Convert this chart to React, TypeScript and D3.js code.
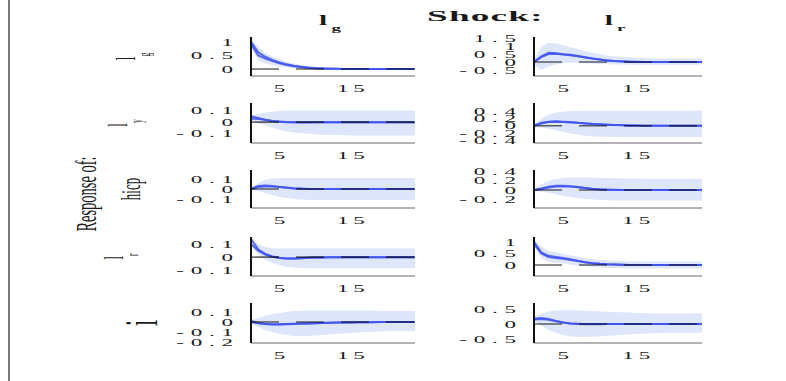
import React from 'react';
import * as d3 from 'd3';

// Horizon (periods after the shock)
const periods = [1, 2, 3, 4, 5, 6, 7, 8, 9, 10, 11, 12, 13, 14, 15, 16, 17, 18, 19, 20, 21, 22, 23, 24];
const xTicks = [5, 15];

// Shock columns and response rows
const shockNames = [{ base: 'l', sub: 'g' }, { base: 'l', sub: 'r' }];
const responseNames = [
  { base: 'l', sub: 'g' },
  { base: 'l', sub: 'y' },
  { base: 'hicp', sub: '' },
  { base: 'l', sub: 'r' },
  { base: 'i', sub: '' },
];

// ---- shock l_g ----
const g_lg_point = [1.0, 0.62, 0.45, 0.33, 0.24, 0.17, 0.12, 0.08, 0.05, 0.03, 0.02, 0.01, 0.01, 0, 0, 0, 0, 0, 0, 0, 0, 0, 0, 0];
const g_lg_median = [0.92, 0.5, 0.38, 0.29, 0.21, 0.15, 0.1, 0.07, 0.04, 0.03, 0.02, 0.01, 0.01, 0, 0, 0, 0, 0, 0, 0, 0, 0, 0, 0];
const g_lg_hi = [1.12, 0.82, 0.6, 0.46, 0.36, 0.27, 0.2, 0.15, 0.11, 0.08, 0.06, 0.05, 0.04, 0.03, 0.03, 0.02, 0.02, 0.02, 0.02, 0.02, 0.02, 0.02, 0.02, 0.02];
const g_lg_lo = [0.85, 0.3, 0.2, 0.14, 0.09, 0.05, 0.02, 0, -0.01, -0.02, -0.02, -0.02, -0.02, -0.02, -0.02, -0.02, -0.02, -0.02, -0.02, -0.02, -0.02, -0.02, -0.02, -0.02];

const g_ly_point = [0.05, 0.035, 0.02, 0.01, 0.004, 0, -0.002, -0.003, -0.003, -0.002, -0.002, -0.001, 0, 0, 0, 0, 0, 0, 0, 0, 0, 0, 0, 0];
const g_ly_median = [0.03, 0.028, 0.018, 0.01, 0.005, 0.001, -0.001, -0.002, -0.002, -0.002, -0.001, -0.001, 0, 0, 0, 0, 0, 0, 0, 0, 0, 0, 0, 0];
const g_ly_hi = [0.06, 0.07, 0.08, 0.09, 0.095, 0.1, 0.1, 0.1, 0.1, 0.1, 0.1, 0.1, 0.1, 0.1, 0.1, 0.1, 0.1, 0.1, 0.1, 0.1, 0.1, 0.1, 0.1, 0.1];
const g_ly_lo = [0.01, -0.01, -0.03, -0.05, -0.065, -0.08, -0.09, -0.095, -0.1, -0.105, -0.11, -0.11, -0.112, -0.113, -0.115, -0.115, -0.115, -0.115, -0.115, -0.115, -0.115, -0.115, -0.115, -0.115];

const g_hicp_point = [0, 0.03, 0.035, 0.03, 0.02, 0.012, 0.006, 0.002, 0, -0.001, 0, 0, 0, 0, 0, 0, 0, 0, 0, 0, 0, 0, 0, 0];
const g_hicp_median = [0, 0.02, 0.025, 0.025, 0.02, 0.014, 0.008, 0.004, 0.001, 0, 0, 0, 0, 0, 0, 0, 0, 0, 0, 0, 0, 0, 0, 0];
const g_hicp_hi = [0.01, 0.06, 0.09, 0.105, 0.11, 0.11, 0.11, 0.11, 0.11, 0.11, 0.11, 0.11, 0.11, 0.11, 0.11, 0.11, 0.11, 0.11, 0.11, 0.11, 0.11, 0.11, 0.11, 0.11];
const g_hicp_lo = [-0.01, -0.02, -0.04, -0.06, -0.08, -0.09, -0.1, -0.105, -0.11, -0.11, -0.11, -0.11, -0.11, -0.11, -0.11, -0.11, -0.11, -0.11, -0.11, -0.11, -0.11, -0.11, -0.11, -0.11];

const g_lr_point = [0.14, 0.06, 0.025, 0.005, -0.005, -0.01, -0.01, -0.008, -0.005, -0.003, -0.002, -0.001, 0, 0, 0, 0, 0, 0, 0, 0, 0, 0, 0, 0];
const g_lr_median = [0.1, 0.05, 0.02, 0.003, -0.006, -0.01, -0.01, -0.008, -0.005, -0.003, -0.002, -0.001, 0, 0, 0, 0, 0, 0, 0, 0, 0, 0, 0, 0];
const g_lr_hi = [0.15, 0.1, 0.078, 0.068, 0.066, 0.066, 0.066, 0.066, 0.066, 0.066, 0.066, 0.066, 0.066, 0.066, 0.066, 0.066, 0.066, 0.066, 0.066, 0.066, 0.066, 0.066, 0.066, 0.066];
const g_lr_lo = [0.1, 0.02, -0.02, -0.045, -0.062, -0.074, -0.08, -0.083, -0.085, -0.085, -0.085, -0.085, -0.085, -0.085, -0.085, -0.085, -0.085, -0.085, -0.085, -0.085, -0.085, -0.085, -0.085, -0.085];

const g_i_point = [0.01, -0.01, -0.02, -0.025, -0.025, -0.022, -0.02, -0.017, -0.015, -0.012, -0.01, -0.008, -0.006, -0.005, -0.004, -0.003, -0.002, -0.002, -0.001, -0.001, 0, 0, 0, 0];
const g_i_median = [0, -0.012, -0.02, -0.022, -0.022, -0.02, -0.018, -0.016, -0.014, -0.012, -0.01, -0.008, -0.006, -0.005, -0.004, -0.003, -0.002, -0.002, -0.001, -0.001, 0, 0, 0, 0];
const g_i_hi = [0.02, 0.04, 0.06, 0.08, 0.09, 0.1, 0.11, 0.11, 0.115, 0.115, 0.115, 0.115, 0.115, 0.115, 0.115, 0.115, 0.115, 0.115, 0.11, 0.11, 0.11, 0.11, 0.11, 0.11];
const g_i_lo = [-0.02, -0.05, -0.08, -0.1, -0.12, -0.13, -0.14, -0.14, -0.14, -0.135, -0.13, -0.125, -0.12, -0.115, -0.11, -0.105, -0.1, -0.1, -0.095, -0.09, -0.09, -0.09, -0.09, -0.09];

// ---- shock l_r ----
const r_lg_point = [0, 0.35, 0.58, 0.55, 0.48, 0.45, 0.38, 0.3, 0.22, 0.15, 0.1, 0.06, 0.03, 0.01, 0, 0, 0, 0, 0, 0, 0, 0, 0, 0];
const r_lg_median = [0, 0.3, 0.5, 0.52, 0.47, 0.42, 0.36, 0.28, 0.21, 0.15, 0.1, 0.06, 0.04, 0.02, 0.01, 0, 0, 0, 0, 0, 0, 0, 0, 0];
const r_lg_hi = [0.15, 0.95, 1.2, 1.15, 1.05, 0.92, 0.8, 0.68, 0.57, 0.48, 0.41, 0.36, 0.32, 0.29, 0.27, 0.25, 0.24, 0.23, 0.22, 0.22, 0.21, 0.21, 0.21, 0.21];
const r_lg_lo = [-0.15, -0.5, -0.3, -0.15, -0.08, -0.05, -0.06, -0.08, -0.1, -0.12, -0.14, -0.15, -0.16, -0.17, -0.17, -0.18, -0.18, -0.18, -0.18, -0.18, -0.18, -0.18, -0.18, -0.18];

const r_ly_point = [0, 0.08, 0.11, 0.12, 0.11, 0.1, 0.08, 0.07, 0.05, 0.04, 0.03, 0.02, 0.015, 0.01, 0.005, 0, 0, 0, 0, 0, 0, 0, 0, 0];
const r_ly_median = [0, 0.06, 0.1, 0.11, 0.1, 0.09, 0.08, 0.06, 0.05, 0.04, 0.03, 0.02, 0.02, 0.01, 0.01, 0, 0, 0, 0, 0, 0, 0, 0, 0];
const r_ly_hi = [0.05, 0.2, 0.3, 0.36, 0.39, 0.4, 0.41, 0.41, 0.41, 0.41, 0.41, 0.41, 0.41, 0.41, 0.41, 0.41, 0.41, 0.41, 0.41, 0.41, 0.41, 0.41, 0.41, 0.41];
const r_ly_lo = [-0.05, -0.05, -0.08, -0.12, -0.17, -0.21, -0.24, -0.27, -0.29, -0.3, -0.3, -0.31, -0.31, -0.31, -0.31, -0.31, -0.31, -0.31, -0.31, -0.31, -0.31, -0.31, -0.31, -0.31];

const r_hicp_point = [0, 0.03, 0.07, 0.09, 0.09, 0.08, 0.06, 0.04, 0.02, 0.01, 0, 0, 0, 0, 0, 0, 0, 0, 0, 0, 0, 0, 0, 0];
const r_hicp_median = [0, 0.02, 0.05, 0.07, 0.075, 0.07, 0.055, 0.04, 0.025, 0.015, 0.01, 0.005, 0, 0, 0, 0, 0, 0, 0, 0, 0, 0, 0, 0];
const r_hicp_hi = [0.02, 0.12, 0.19, 0.23, 0.25, 0.26, 0.26, 0.26, 0.26, 0.25, 0.25, 0.25, 0.24, 0.24, 0.24, 0.24, 0.23, 0.23, 0.23, 0.23, 0.23, 0.23, 0.23, 0.23];
const r_hicp_lo = [-0.02, -0.04, -0.06, -0.09, -0.12, -0.15, -0.17, -0.19, -0.2, -0.21, -0.21, -0.22, -0.22, -0.22, -0.22, -0.22, -0.22, -0.22, -0.22, -0.22, -0.22, -0.22, -0.22, -0.22];

const r_lr_point = [1.0, 0.55, 0.4, 0.35, 0.3, 0.25, 0.18, 0.12, 0.08, 0.05, 0.03, 0.02, 0.01, 0, 0, 0, 0, 0, 0, 0, 0, 0, 0, 0];
const r_lr_median = [0.92, 0.5, 0.35, 0.3, 0.27, 0.22, 0.17, 0.12, 0.08, 0.05, 0.03, 0.02, 0.01, 0, 0, 0, 0, 0, 0, 0, 0, 0, 0, 0];
const r_lr_hi = [1.1, 0.8, 0.62, 0.55, 0.48, 0.42, 0.36, 0.3, 0.26, 0.22, 0.2, 0.18, 0.17, 0.16, 0.16, 0.15, 0.15, 0.15, 0.15, 0.15, 0.15, 0.15, 0.15, 0.15];
const r_lr_lo = [0.85, 0.3, 0.15, 0.1, 0.06, 0.02, -0.02, -0.05, -0.08, -0.1, -0.12, -0.13, -0.14, -0.15, -0.15, -0.15, -0.15, -0.15, -0.15, -0.15, -0.15, -0.15, -0.15, -0.15];

const r_i_point = [0.18, 0.2, 0.17, 0.1, 0.05, 0.02, 0, -0.01, -0.01, -0.005, 0, 0, 0, 0, 0, 0, 0, 0, 0, 0, 0, 0, 0, 0];
const r_i_median = [0.15, 0.17, 0.14, 0.09, 0.05, 0.02, 0.01, 0, 0, 0, 0, 0, 0, 0, 0, 0, 0, 0, 0, 0, 0, 0, 0, 0];
const r_i_hi = [0.25, 0.35, 0.42, 0.45, 0.46, 0.46, 0.45, 0.44, 0.43, 0.42, 0.41, 0.4, 0.39, 0.38, 0.37, 0.36, 0.36, 0.35, 0.35, 0.35, 0.35, 0.35, 0.35, 0.35];
const r_i_lo = [0.1, -0.05, -0.2, -0.3, -0.37, -0.41, -0.43, -0.43, -0.42, -0.41, -0.4, -0.38, -0.36, -0.35, -0.33, -0.32, -0.31, -0.3, -0.3, -0.29, -0.29, -0.29, -0.29, -0.28];

// Axis limits and tick values per panel
const ylim_g = [[-0.26, 1.18], [-0.18, 0.165], [-0.19, 0.19], [-0.145, 0.155], [-0.21, 0.19]];
const ylim_r = [[-0.875, 1.56], [-0.47, 0.62], [-0.38, 0.42], [-0.48, 1.22], [-0.63, 0.7]];
const yticks_g = [[0, 0.5, 1], [-0.1, 0, 0.1], [-0.1, 0, 0.1], [-0.1, 0, 0.1], [-0.2, -0.1, 0, 0.1]];
const yticks_r = [[-0.5, 0, 0.5, 1, 1.5], [-0.4, -0.2, 0, 0.2, 0.4], [-0.2, 0, 0.2, 0.4], [0, 0.5, 1], [-0.5, 0, 0.5]];

const seriesG = [
  [g_lg_point, g_lg_median, g_lg_lo, g_lg_hi],
  [g_ly_point, g_ly_median, g_ly_lo, g_ly_hi],
  [g_hicp_point, g_hicp_median, g_hicp_lo, g_hicp_hi],
  [g_lr_point, g_lr_median, g_lr_lo, g_lr_hi],
  [g_i_point, g_i_median, g_i_lo, g_i_hi],
];
const seriesR = [
  [r_lg_point, r_lg_median, r_lg_lo, r_lg_hi],
  [r_ly_point, r_ly_median, r_ly_lo, r_ly_hi],
  [r_hicp_point, r_hicp_median, r_hicp_lo, r_hicp_hi],
  [r_lr_point, r_lr_median, r_lr_lo, r_lr_hi],
  [r_i_point, r_i_median, r_i_lo, r_i_hi],
];

// Layout
const W = 786;
const H = 381;
const COLS: [number, number][] = [[251, 415], [534, 702]];
const ROWS: [number, number][] = [[37, 76], [103, 143], [170, 208], [237, 276], [303, 343]];
const ROW_LABEL_X = [135, 127, 140, 123, 157];
const ROW_LABEL_SIZE = [13, 13, 13, 13, 22];
const SX = 2.1; // horizontal glyph stretch
const FONT = "'Liberation Serif', 'Times New Roman', serif";
const BLUE = '#3f52ee';
const BAND = '#c6d6f8';

function fmt(v: number) {
  if (v === 0) return '0';
  return String(v);
}

function HText(props: { x: number; y: number; anchor?: string; size: number; bold?: boolean; spacing?: number; sx?: number; children: React.ReactNode }) {
  const { x, y, anchor = 'start', size, bold, spacing = 0, sx = SX, children } = props;
  const shift = anchor === 'end' ? spacing : anchor === 'middle' ? spacing / 2 : 0;
  return (
    <text
      transform={`translate(${x},${y}) scale(${sx},1)`}
      x={shift}
      textAnchor={anchor}
      fontFamily={FONT}
      fontSize={size}
      fontWeight={bold ? 'bold' : 'normal'}
      letterSpacing={spacing}
      fill="#1a1a1a"
    >
      {children}
    </text>
  );
}

function VText(props: { x: number; y: number; size: number; children: React.ReactNode }) {
  const { x, y, size, children } = props;
  return (
    <text
      transform={`translate(${x},${y}) scale(${SX},1) rotate(-90)`}
      textAnchor="middle"
      fontFamily={FONT}
      fontSize={size}
      fill="#1a1a1a"
    >
      {children}
    </text>
  );
}

function Panel(props: { col: number; row: number; series: number[][]; ylim: number[]; yticks: number[]; clipId: string }) {
  const { col, row, series, ylim, yticks, clipId } = props;
  const [x0, x1] = COLS[col];
  const [top, bottom] = ROWS[row];
  const x = d3.scaleLinear().domain([periods[0], periods[periods.length - 1]]).range([x0, x1]);
  const y = d3.scaleLinear().domain(ylim).range([bottom, top]);
  const [point, median, lo, hi] = series;
  const idx = periods.map((_, i) => i);
  const area = d3
    .area<number>()
    .x((i) => x(periods[i]))
    .y0((i) => y(lo[i]))
    .y1((i) => y(hi[i]));
  const line = (vals: number[]) =>
    d3
      .line<number>()
      .x((i) => x(periods[i]))
      .y((i) => y(vals[i]))(idx) || '';

  return (
    <g>
      <clipPath id={clipId}>
        <rect x={x0} y={top - 2} width={x1 - x0 + 1} height={bottom - top + 2} />
      </clipPath>
      <g clipPath={`url(#${clipId})`}>
        <path d={area(idx) || ''} fill={BAND} fillOpacity={0.6} />
        <path d={line(median)} fill="none" stroke={BLUE} strokeOpacity={0.85} strokeWidth={2} />
        <path d={line(point)} fill="none" stroke={BLUE} strokeOpacity={0.85} strokeWidth={2} />
      </g>
      <line x1={x0} x2={x1} y1={y(0)} y2={y(0)} stroke="#000" strokeOpacity={0.6} strokeWidth={1.6} strokeDasharray="28 17" />
      <line x1={x0} x2={x1} y1={bottom} y2={bottom} stroke="#9a9a9a" strokeWidth={1.5} />
      <line x1={x0} x2={x0} y1={top} y2={bottom} stroke="#111" strokeWidth={2} />
      {yticks.map((t) => (
        <HText key={`y${t}`} x={x0 - 18} y={y(t) + 3.7} anchor="end" size={11} spacing={3.2}>
          {fmt(t)}
        </HText>
      ))}
      {xTicks.map((t) => (
        <HText key={`x${t}`} x={x(t)} y={bottom + 16} anchor="middle" size={11} spacing={2.3}>
          {t}
        </HText>
      ))}
    </g>
  );
}

export default function App() {
  return (
    <svg width={W} height={H} style={{ position: 'absolute', left: 0, top: 0, background: '#fff' }}>
      <rect x={0} y={0} width={W} height={H} fill="#fff" />
      <line x1={9} x2={9} y1={0} y2={H} stroke="#7a7a7a" strokeWidth={2} />

      {/* Header */}
      <HText x={427} y={21} size={15.5} bold spacing={0.5} sx={2.4}>Shock:</HText>
      {shockNames.map((s, c) => (
        <text
          key={`t${c}`}
          transform={`translate(${(COLS[c][0] + COLS[c][1]) / 2 - 3},${25}) scale(${SX},1)`}
          textAnchor="middle"
          fontFamily={FONT}
          fontSize={14}
          fontWeight="bold"
          fill="#1a1a1a"
        >
          {s.base}
          <tspan fontSize={9} dy={6} dx={2}>{s.sub}</tspan>
        </text>
      ))}

      {/* Row labels */}
      <VText x={96} y={194} size={14.5}>Response of:</VText>
      {responseNames.map((r, i) => (
        <text
          key={`r${i}`}
          transform={`translate(${ROW_LABEL_X[i]},${(ROWS[i][0] + ROWS[i][1]) / 2}) scale(${SX},1) rotate(-90)`}
          textAnchor="middle"
          fontFamily={FONT}
          fontSize={ROW_LABEL_SIZE[i]}
          fill="#1a1a1a"
        >
          {r.base}
          {r.sub ? <tspan fontSize={7.5} dy={7}>{r.sub}</tspan> : null}
        </text>
      ))}

      {/* Panels */}
      {seriesG.map((s, i) => (
        <Panel key={`g${i}`} col={0} row={i} series={s} ylim={ylim_g[i]} yticks={yticks_g[i]} clipId={`cg${i}`} />
      ))}
      {seriesR.map((s, i) => (
        <Panel key={`r${i}`} col={1} row={i} series={s} ylim={ylim_r[i]} yticks={yticks_r[i]} clipId={`cr${i}`} />
      ))}
    </svg>
  );
}
